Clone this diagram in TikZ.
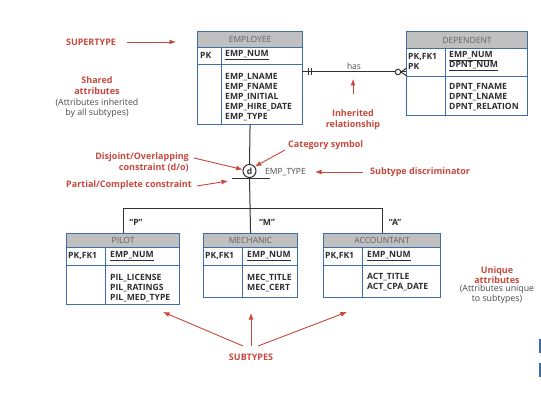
\documentclass[tikz,border=0pt]{standalone}
\usepackage{fontspec}
\setmainfont{Open Sans}
\usetikzlibrary{arrows.meta}
\definecolor{redl}{RGB}{200,72,60}
\definecolor{blueb}{RGB}{62,110,168}
\definecolor{hdrgray}{RGB}{192,192,192}
\definecolor{txt}{RGB}{45,45,50}
\definecolor{connc}{RGB}{50,50,50}
\begin{document}
\begin{tikzpicture}[x=1pt,y=-1pt,
 tbl/.style={draw=blueb, line width=1.1pt, fill=white, inner sep=0, anchor=north west},
 hdr/.style={draw=blueb, line width=1.1pt, fill=hdrgray, inner sep=0, anchor=north west, font=\fontsize{8.5}{9}\selectfont, text=txt!75},
 tline/.style={draw=blueb, line width=0.9pt},
 attr/.style={inner sep=0, anchor=west, font=\fontsize{8.6}{10}\selectfont\bfseries, text=txt, align=left},
 lbl/.style={inner sep=0, font=\fontsize{9}{10.5}\selectfont\bfseries, text=redl, align=center},
 note/.style={inner sep=0, font=\fontsize{8.8}{10}\selectfont, text=txt!85, align=center},
 rarr/.style={draw=redl, line width=0.9pt, -{Latex[length=6.5pt,width=5pt]}},
 conn/.style={draw=connc, line width=1pt},
 disc/.style={inner sep=0, font=\fontsize{8.5}{10}\selectfont, text=txt!85},
]
\useasboundingbox[fill=white] (0,0) rectangle (541,401);

% ---------- EMPLOYEE ----------
\node[tbl, minimum width=105pt, minimum height=93pt] (emp) at (197,31) {};
\node[hdr, minimum width=105pt, minimum height=16pt] (emph) at (197,31) {EMPLOYEE};
\draw[tline] (197,64) -- (302,64);
\draw[tline] (221,47) -- (221,124);
\node[attr] (empk) at (200,55.5) {PK};
\node[attr] (empnum) at (225,55.5) {\underline{EMP\_NUM}};
\node[attr] (empat) at (225,97) {EMP\_LNAME\\EMP\_FNAME\\EMP\_INITIAL\\EMP\_HIRE\_DATE\\EMP\_TYPE};

% ---------- DEPENDENT ----------
\node[tbl, minimum width=121pt, minimum height=84pt] (dep) at (406,31) {};
\node[hdr, minimum width=121pt, minimum height=17pt] (deph) at (406,31) {DEPENDENT};
\draw[tline] (406,76) -- (527,76);
\draw[tline] (445,48) -- (445,115);
\node[attr] (depk) at (408,61.5) {PK,FK1\\PK};
\node[attr] (depnum) at (449,61.5) {\underline{EMP\_NUM}\\\underline{DPNT\_NUM}};
\node[attr] (depat) at (449,97) {DPNT\_FNAME\\DPNT\_LNAME\\DPNT\_RELATION};

% ---------- PILOT ----------
\node[tbl, minimum width=113pt, minimum height=71pt] (pil) at (66,233) {};
\node[hdr, minimum width=113pt, minimum height=14pt] (pilh) at (66,233) {PILOT};
\draw[tline] (66,265) -- (179,265);
\draw[tline] (105,247) -- (105,304);
\node[attr] (pilk) at (68,256) {PK,FK1};
\node[attr] (pilnum) at (110,256) {\underline{EMP\_NUM}};
\node[attr] (pilat) at (110,288) {PIL\_LICENSE\\PIL\_RATINGS\\PIL\_MED\_TYPE};

% ---------- MECHANIC ----------
\node[tbl, minimum width=94pt, minimum height=64pt] (mec) at (203,233) {};
\node[hdr, minimum width=94pt, minimum height=14pt] (mech) at (203,233) {MECHANIC};
\draw[tline] (203,265) -- (297,265);
\draw[tline] (242,247) -- (242,297);
\node[attr] (meck) at (205,256) {PK,FK1};
\node[attr] (mecnum) at (247,256) {\underline{EMP\_NUM}};
\node[attr] (mecat) at (247,283) {MEC\_TITLE\\MEC\_CERT};

% ---------- ACCOUNTANT ----------
\node[tbl, minimum width=117pt, minimum height=64pt] (acc) at (323,233) {};
\node[hdr, minimum width=117pt, minimum height=14pt] (acch) at (323,233) {ACCOUNTANT};
\draw[tline] (323,265) -- (440,265);
\draw[tline] (362,247) -- (362,297);
\node[attr] (acck) at (325,256) {PK,FK1};
\node[attr] (accnum) at (367,256) {\underline{EMP\_NUM}};
\node[attr] (accat) at (367,282) {ACT\_TITLE\\ACT\_CPA\_DATE};

% ---------- relationship "has" ----------
\coordinate (hasL) at (302,72);
\coordinate (hasR) at (406,72);
\draw[conn] (hasL) -- (hasR);
\node[disc] (hasl) at (354,66) {has};
\draw[conn] (308,68.5) -- (308,75.5);
\draw[conn] (311,68.5) -- (311,75.5);
\draw[conn] (401,72) -- (406,68.5);
\draw[conn] (401,72) -- (406,75.5);
\node[circle, draw=connc, line width=1pt, fill=white, minimum size=5.5pt, inner sep=0] (crowo) at (398,72) {};

% ---------- category / subtype tree ----------
\node[circle, draw=connc, line width=1pt, fill=white, minimum size=13pt, inner sep=0,
      font=\fontsize{8.5}{8}\selectfont\bfseries, text=txt] (cat) at (249.5,171) {d};
\draw[conn] (emp.south) -- (cat.north);
\coordinate (ul) at (232,179);
\coordinate (ur) at (270,179);
\draw[conn] (ul) -- (ur);
\draw[conn] (cat.south) -- (mec.north);
\draw[conn] (pil.north) -- ++(0,-25) -| (acc.north);
\node[disc, anchor=west] (etype) at (265,172) {EMP\_TYPE};
\node[attr, anchor=center] (qp) at (136,222) {“P”};
\node[attr, anchor=center] (qm) at (267,222) {“M”};
\node[attr, anchor=center] (qa) at (395,222) {“A”};

% ---------- red annotations ----------
\node[lbl] (sup) at (91,42) {SUPERTYPE};
\coordinate (supT) at (127,42);
\coordinate (supH) at (176,42);
\draw[rarr] (supT) -- (supH);

\node[lbl] (shared) at (97,85.5) {Shared\\attributes};
\node[note] (inher) at (97,108.5) {(Attributes inherited\\by all subtypes)};

\node[lbl] (inh) at (353,119.5) {Inherited\\relationship};
\coordinate (inhT) at (353,94);
\coordinate (inhH) at (353,79);
\draw[rarr] (inhT) -- (inhH);

\node[lbl, anchor=east, align=right] (dis) at (189,162.5) {Disjoint/Overlapping\\constraint (d/o)};
\coordinate (disT) at (194,158);
\draw[rarr] (disT) -- (cat.168);

\node[lbl, anchor=east] (pc) at (192,185.5) {Partial/Complete constraint};
\coordinate (pcT) at (197,186);
\coordinate (pcH) at (228,181);
\draw[rarr] (pcT) -- (pcH);

\node[lbl, anchor=west] (catsym) at (288,145) {Category symbol};
\coordinate (catT) at (285,150);
\draw[rarr] (catT) -- (cat.40);

\node[lbl, anchor=west] (sd) at (370,172) {Subtype discriminator};
\coordinate (sdT) at (363,172);
\coordinate (sdH) at (315,172);
\draw[rarr] (sdT) -- (sdH);

\node[lbl] (uniq) at (497,275) {Unique\\attributes};
\node[note] (uniqn) at (497,294.5) {(Attributes unique\\to subtypes)};

\node[lbl] (subt) at (251,357) {SUBTYPES};
\coordinate (s1) at (243,346);
\coordinate (s2) at (251,346);
\coordinate (s3) at (258,346);
\coordinate (h1) at (163,312);
\coordinate (h2) at (251,313);
\coordinate (h3) at (347,312);
\draw[rarr] (s1) -- (h1);
\draw[rarr] (s2) -- (h2);
\draw[rarr] (s3) -- (h3);

% ---------- edge marks ----------
\fill[blueb] (539,339) rectangle (541,353);
\fill[blueb] (539,363) rectangle (541,377);
\end{tikzpicture}
\end{document}
